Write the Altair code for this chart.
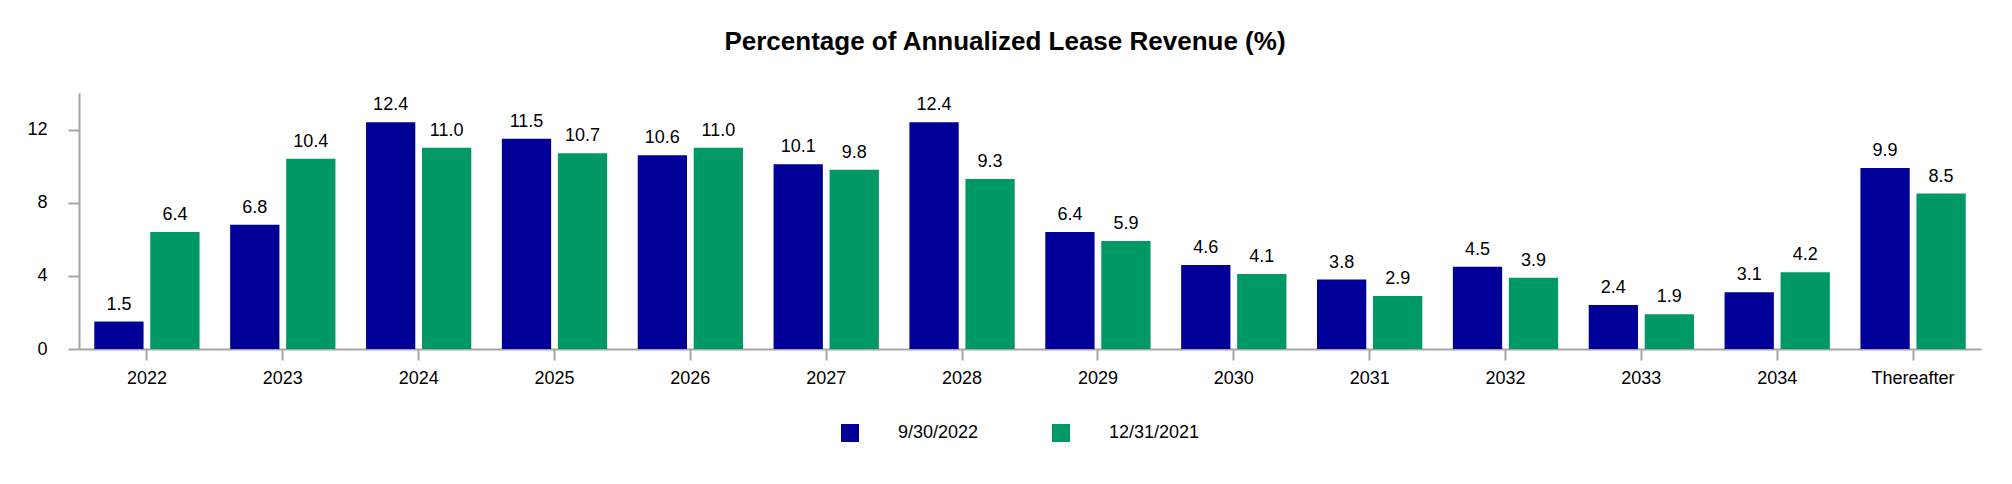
import altair as alt
import pandas as pd

# Lease expiration schedule: share of annualized lease revenue by year
periods = ["2022", "2023", "2024", "2025", "2026", "2027", "2028",
           "2029", "2030", "2031", "2032", "2033", "2034", "Thereafter"]
series_names = ["9/30/2022", "12/31/2021"]
values_sep_2022 = [1.5, 6.8, 12.4, 11.5, 10.6, 10.1, 12.4, 6.4, 4.6, 3.8, 4.5, 2.4, 3.1, 9.9]
values_dec_2021 = [6.4, 10.4, 11.0, 10.7, 11.0, 9.8, 9.3, 5.9, 4.1, 2.9, 3.9, 1.9, 4.2, 8.5]
series_colors = ["#000099", "#009966"]
y_ticks = [0, 4, 8, 12]

rows = []
for p, a, b in zip(periods, values_sep_2022, values_dec_2021):
    rows.append({"period": p, "series": series_names[0], "value": a})
    rows.append({"period": p, "series": series_names[1], "value": b})
df = pd.DataFrame(rows)

FONT = "Liberation Sans"
AXIS_GRAY = "#a6a6a6"

x_enc = alt.X("period:N", sort=periods, title=None,
              scale=alt.Scale(paddingInner=0.225, paddingOuter=0.1125),
              axis=alt.Axis(labelAngle=0, labelFontSize=18, labelColor="#000000",
                            labelFont=FONT, tickSize=11, tickColor=AXIS_GRAY, tickWidth=2,
                            domainColor=AXIS_GRAY, domainWidth=2, labelPadding=9,
                            grid=False))
xoff_enc = alt.XOffset("series:N", sort=series_names,
                       scale=alt.Scale(paddingInner=0.12, paddingOuter=0))
y_enc = alt.Y("value:Q", title=None,
              scale=alt.Scale(domain=[0, 14], nice=False),
              axis=alt.Axis(values=y_ticks, labelFontSize=18, labelColor="#000000",
                            labelFont=FONT, tickSize=11, tickColor=AXIS_GRAY, tickWidth=2,
                            domainColor=AXIS_GRAY, domainWidth=2, labelPadding=21,
                            grid=False))

bars = alt.Chart(df).mark_bar().encode(
    x=x_enc,
    xOffset=xoff_enc,
    y=y_enc,
    color=alt.Color("series:N", sort=series_names,
                    scale=alt.Scale(domain=series_names, range=series_colors),
                    legend=alt.Legend(title=None, orient="none", legendX=762, legendY=331,
                                      direction="horizontal", symbolType="square",
                                      symbolSize=324, symbolStrokeWidth=0,
                                      labelFontSize=18, labelFont=FONT, labelColor="#000000",
                                      labelOffset=39, columnPadding=73, padding=0)),
)

labels = alt.Chart(df).mark_text(
    baseline="alphabetic", align="center", dy=-12, fontSize=18, font=FONT, color="#000000"
).encode(
    x=alt.X("period:N", sort=periods),
    xOffset=xoff_enc,
    y="value:Q",
    text=alt.Text("value:Q", format=".1f"),
)

chart = (bars + labels).properties(
    width=1902,
    height=256,
    title=alt.TitleParams(
        "Percentage of Annualized Lease Revenue (%)",
        fontSize=26, font=FONT, fontWeight="bold", color="#000000",
        anchor="middle", offset=38, dx=-25,
    ),
    autosize=alt.AutoSizeParams(type="none"),
    padding={"left": 79, "top": 93, "right": 31, "bottom": 135},
).configure(background="#ffffff").configure_view(stroke=None, strokeWidth=0)

chart.save("out.html", embed_options={"renderer": "svg", "actions": False})
